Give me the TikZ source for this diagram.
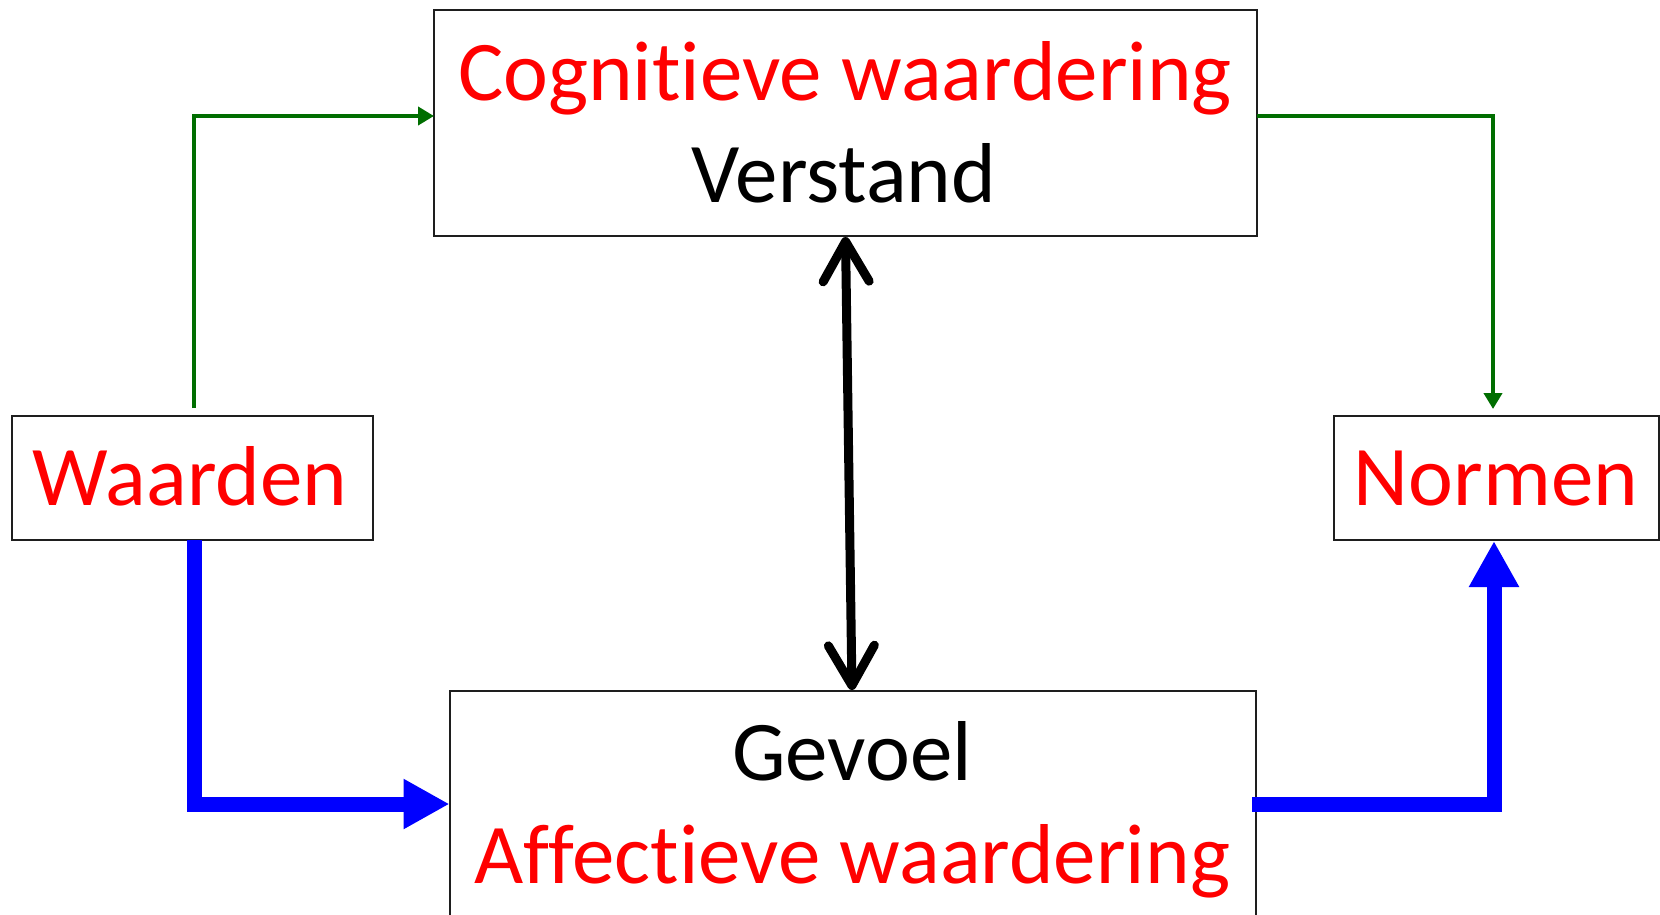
\documentclass[tikz,border=0pt]{standalone}
\usepackage{fontspec}
\setmainfont{Carlito}[Ligatures={NoCommon,NoContextual}]
\usetikzlibrary{arrows.meta}
\definecolor{arrgreen}{RGB}{0,110,0}
\definecolor{txtred}{RGB}{255,0,0}
\definecolor{boxline}{RGB}{30,30,30}
\tikzset{
  box/.style={draw=boxline, line width=2pt, inner sep=0pt, fill=white},
  lbl/.style={anchor=base, inner sep=0pt, font=\fontsize{85}{100}\selectfont},
  greenarrow/.style={draw=arrgreen, line width=4.5pt, -{Triangle[length=16pt,width=18pt]}},
  bluearrow/.style={draw=blue, line width=15pt, -{Triangle[length=46pt,width=47pt]}},
  blackarrow/.style={draw=black, line width=9pt, line cap=round,
     {Straight Barb[length=40pt,width=46pt,round]}-{Straight Barb[length=40pt,width=46pt,round]}}
}
\begin{document}
\begin{tikzpicture}[x=1pt,y=-1pt]
\path[use as bounding box] (0,0) rectangle (1660,914);
\clip (0,0) rectangle (1660,914);
\fill[white] (0,0) rectangle (1660,914);

% boxes
\node[box, minimum width=823pt, minimum height=226pt] (top) at (845.5,123) {};
\node[box, minimum width=361pt, minimum height=124pt] (waarden) at (192.5,478) {};
\node[box, minimum width=325pt, minimum height=124pt] (normen) at (1496.5,478) {};
\node[box, minimum width=806.5pt, minimum height=309pt] (bottom) at (853,845.5) {};

% texts
\node[lbl, text=txtred] (tcog) at (845,100) {Cognitieve waardering};
\node[lbl, text=black] (tver) at (844,202) {Verstand};
\node[lbl, text=txtred] (twaa) at (190,505) {Waarden};
\node[lbl, text=txtred] (tnor) at (1496,505) {Normen};
\node[lbl, text=black] (tgev) at (852,780) {Gevoel};
\node[lbl, text=txtred] (taff) at (852,883) {Affectieve waardering};

% coordinates for connector ends
\coordinate (gstart) at (194,408);
\coordinate (gin) at (434,116);
\coordinate (gout) at (1257,116);
\coordinate (gend) at (1493,409);
\coordinate (bstart) at (194,540);
\coordinate (bin) at (449.5,804);
\coordinate (bout) at (1252,804);
\coordinate (bend) at (1494,541);
\coordinate (kt) at (845.5,237);
\coordinate (kb) at (852,690);

% connectors
\draw[greenarrow] (gstart) |- (gin);
\draw[greenarrow] (gout) -| (gend);
\draw[bluearrow] (bstart) |- (bin);
\draw[bluearrow] (bout) -| (bend);
\draw[blackarrow] (kt) -- (kb);
\end{tikzpicture}
\end{document}
